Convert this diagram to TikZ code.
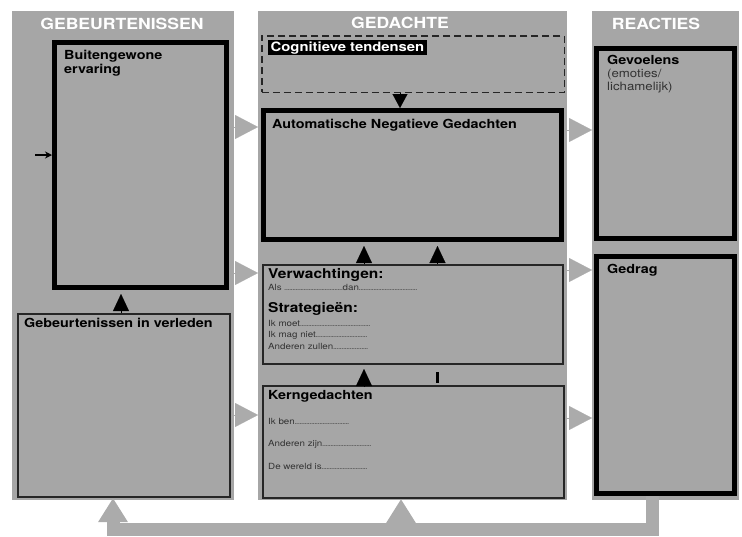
\documentclass[tikz,border=0pt]{standalone}
\usepackage{fontspec}
\setmainfont{TeX Gyre Heros}[FakeStretch=1.15]
\usepackage{tikz}
\usetikzlibrary{arrows.meta,positioning}
\definecolor{panelgray}{gray}{0.65}
\definecolor{arrowgray}{gray}{0.67}
\definecolor{inkgray}{gray}{0.2}
\definecolor{dotgray}{gray}{0.35}
\newcommand{\invul}{\xleaders\hbox to 1.6pt{\hss\textcolor{dotgray}{.}\hss}\hskip 0pt plus 1fill}
\tikzset{
    panel/.style={fill=panelgray, inner sep=0pt, outer sep=0pt, anchor=north west, minimum height=489pt},
    heading/.style={text=white, font=\bfseries\fontsize{15.3}{16}\selectfont, inner sep=0pt, anchor=base},
    thickbox/.style={draw=black, line width=5pt, fill=panelgray, inner sep=0pt, anchor=north west},
    thinbox/.style={draw=black!85, line width=2pt, fill=panelgray, inner sep=0pt, anchor=north west},
    dashbox/.style={draw=black!85, dash pattern=on 7pt off 4pt, line width=1.5pt, inner sep=0pt, anchor=north west},
    boxtitle/.style={font=\bfseries\fontsize{12.5}{14}\selectfont, align=left, inner sep=0pt},
    subtitle/.style={font=\bfseries\fontsize{13.5}{15}\selectfont, inner sep=0pt},
    fillin/.style={font=\fontsize{8.5}{11.5}\selectfont, text=inkgray, align=left, inner sep=0pt},
    blackhead/.style={-{Triangle[length=17pt, width=16pt]}, line width=0.1pt, shorten >=4pt},
    grayhead/.style={-{Triangle[length=23pt, width=24pt]}, arrowgray, line width=0.1pt},
    feedback/.style={-{Triangle[length=24pt, width=28pt]}, arrowgray, line width=13pt}
}
\begin{document}
\begin{tikzpicture}[x=1pt, y=-1pt]
    \useasboundingbox (0,0) rectangle (742,536);
    \node[panel, minimum width=222pt] (leftcol) at (12,11) {};
    \node[panel, minimum width=309pt] (midcol) at (258,11) {};
    \node[panel, minimum width=147pt] (rightcol) at (592,11) {};
    \node[heading] (hgeb) at (122,29) {GEBEURTENISSEN};
    \node[heading] (hged) at (400,28.5) {GEDACHTE};
    \node[heading] (hrea) at (656,29) {REACTIES};

    \node[thickbox, minimum width=172pt, minimum height=245pt] (ervaring) at (52,40) {};
    \node[thinbox, minimum width=212pt, minimum height=183pt] (past) at (17,313) {};
    \node[dashbox, minimum width=302.5pt, minimum height=56.5pt] (cogn) at (261,35) {};
    \node[thickbox, minimum width=298pt, minimum height=129pt] (ang) at (261,108) {};
    \node[thinbox, minimum width=300pt, minimum height=99pt] (verw) at (262,264) {};
    \node[thinbox, minimum width=301pt, minimum height=112pt] (kern) at (262,385) {};
    \node[thickbox, minimum width=138pt, minimum height=190pt] (gevoel) at (594,46) {};
    \node[thickbox, minimum width=138pt, minimum height=237pt] (gedrag) at (594,254) {};

    \node[boxtitle, below right=10pt and 12pt of ervaring.north west] (ervaringtxt) {Buitengewone\\ervaring};
    \node[boxtitle, below right=5pt and 7pt of past.north west] (pasttxt) {Gebeurtenissen in verleden};
    \node[boxtitle, fill=black, text=white, inner xsep=2.5pt, inner ysep=1.2pt, font=\bfseries\fontsize{12.9}{13}\selectfont,
        below right=5pt and 7pt of cogn.north west] (cogntxt) {Cognitieve tendensen};
    \node[boxtitle, below right=11pt and 11pt of ang.north west] (angtxt) {Automatische Negatieve Gedachten};
    \node[subtitle, below right=4pt and 6pt of verw.north west] (verwtxt) {Verwachtingen:};
    \node[fillin, below right=20pt and 6pt of verw.north west] (alsdan) {\makebox[149pt][l]{Als \invul dan\invul}};
    \node[subtitle, below right=38pt and 6pt of verw.north west] (strattxt) {Strategieën:};
    \node[fillin, below right=56pt and 6pt of verw.north west] (stratlines)
        {\makebox[102pt][l]{Ik moet\invul}\\\makebox[99pt][l]{Ik mag niet\invul}\\\makebox[100pt][l]{Anderen zullen\invul}};
    \node[boxtitle, below right=5pt and 6pt of kern.north west] (kerntxt) {Kerngedachten};
    \node[fillin, font=\fontsize{8.5}{22.5}\selectfont, below right=33pt and 6pt of kern.north west] (kernlines)
        {\makebox[81pt][l]{Ik ben\invul}\\\makebox[103pt][l]{Anderen zijn\invul}\\\makebox[99pt][l]{De wereld is\invul}};
    \node[boxtitle, below right=9pt and 13pt of gevoel.north west] (gevoeltxt) {Gevoelens};
    \node[boxtitle, font=\fontsize{11.5}{13}\selectfont, text=inkgray, below right=22.5pt and 13pt of gevoel.north west] (gevoelsub) {(emoties/\\lichamelijk)};
    \node[boxtitle, below right=10pt and 13pt of gedrag.north west] (gedragtxt) {Gedrag};

    \draw[grayhead] (leftcol.east |- 0,127) -- (midcol.west |- 0,127);
    \draw[grayhead] (leftcol.east |- 0,273) -- (midcol.west |- 0,273);
    \draw[grayhead] (leftcol.east |- 0,415) -- (midcol.west |- 0,415);
    \draw[grayhead] (midcol.east |- 0,130) -- (rightcol.west |- 0,130);
    \draw[grayhead] (midcol.east |- 0,270) -- (rightcol.west |- 0,270);
    \draw[grayhead] (midcol.east |- 0,418) -- (rightcol.west |- 0,418);

    \coordinate (inlet) at (35,155);
    \draw[-{Stealth[length=7pt, width=7pt]}, line width=1.5pt] (inlet) -- (ervaring.west |- inlet);
    \draw[blackhead] (past.north -| 121,0) -- (ervaring.south -| 121,0);
    \draw[blackhead, -{Triangle[length=14pt, width=15pt]}, shorten >=0pt] (cogn.south -| 400,0) -- (ang.north -| 400,0);
    \draw[blackhead] (verw.north -| 364,0) -- (ang.south -| 364,0);
    \draw[blackhead] (verw.north -| 437.5,0) -- (ang.south -| 437.5,0);
    \coordinate (kerntop) at ([yshift=-2pt]kern.north);
    \draw[blackhead] (kerntop -| 364,0) -- (verw.south -| 364,0);
    \draw[line width=3pt, shorten <=7pt, shorten >=2pt] (verw.south -| 437.5,0) -- (kern.north -| 437.5,0);

    \coordinate (loopstart) at (gedrag.south -| 652,0);
    \coordinate (loopend) at (past.south -| 113,0);
    \coordinate (kernfoot) at (kern.south -| 401,0);
    \draw[feedback] (loopstart) -- (loopstart |- 0,529.5) -| (loopend);
    \draw[feedback] (kernfoot |- 0,524) -- (kernfoot);
\end{tikzpicture}
\end{document}
